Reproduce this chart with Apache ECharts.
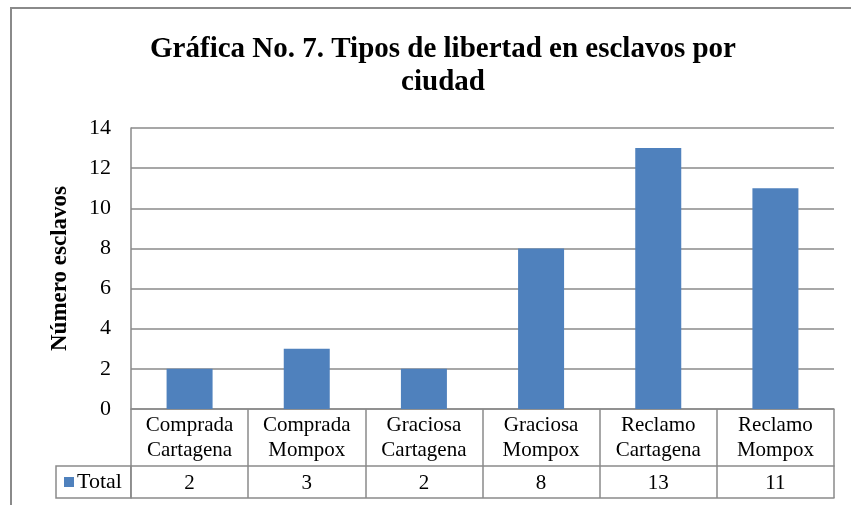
<!DOCTYPE html>
<html>
<head>
<meta charset="utf-8">
<script src="https://cdn.jsdelivr.net/npm/echarts@6/dist/echarts.min.js"></script>
<style>
  html, body { margin: 0; padding: 0; background: #fff; }
  #frame { position: absolute; left: 10px; top: 7px; width: 860px; height: 520px;
           border-left: 2px solid #8a8a8a; border-top: 2px solid #8a8a8a; }
  #chart { position: absolute; left: 0; top: 0; width: 851px; height: 505px; }
</style>
</head>
<body>
<div id="frame"></div>
<div id="chart"></div>
<script>
const categories = ['Comprada\nCartagena', 'Comprada\nMompox', 'Graciosa\nCartagena',
  'Graciosa\nMompox', 'Reclamo\nCartagena', 'Reclamo\nMompox']
const totals = [2, 3, 2, 8, 13, 11]
const yTicks = { min: 0, max: 14, interval: 2 }

const lineGray = '#8a8a8a'
const serif = 'Liberation Serif'

const chart = echarts.init(document.getElementById('chart'))

const option = {
  animation: false,
  title: {
    text: 'Gráfica No. 7. Tipos de libertad en esclavos por\nciudad',
    left: 438,
    top: 28,
    textAlign: 'center',
    textStyle: {
      fontFamily: serif,
      fontWeight: 'bold',
      fontSize: 29,
      lineHeight: 33,
      color: '#000'
    }
  },
  legend: {
    data: ['Total'],
    left: 56,
    top: 466,
    padding: [5, 9, 5, 8],
    itemWidth: 10,
    itemHeight: 10,
    icon: 'rect',
    borderColor: lineGray,
    borderWidth: 1.5,
    borderRadius: 0,
    textStyle: { fontFamily: serif, fontSize: 22, lineHeight: 22, color: '#000', padding: [0, 0, 0, -2] }
  },
  grid: {
    left: 131,
    right: 17,
    top: 128,
    bottom: 96
  },
  xAxis: [
    {
      type: 'category',
      data: categories,
      position: 'bottom',
      axisLine: { lineStyle: { color: lineGray, width: 1.5 } },
      axisTick: { show: true, length: 89, lineStyle: { color: lineGray, width: 1.5 } },
      axisLabel: {
        margin: 4,
        interval: 0,
        fontFamily: serif,
        fontSize: 21,
        lineHeight: 25,
        color: '#000'
      }
    },
    {
      type: 'category',
      data: totals.map(String),
      position: 'bottom',
      offset: 57,
      axisLine: { lineStyle: { color: lineGray, width: 1.5 } },
      axisTick: { show: false },
      axisLabel: {
        margin: 6,
        interval: 0,
        fontFamily: serif,
        fontSize: 21,
        lineHeight: 22,
        color: '#000'
      }
    },
    {
      type: 'category',
      data: categories,
      position: 'bottom',
      offset: 89,
      axisLine: { lineStyle: { color: lineGray, width: 1.5 } },
      axisTick: { show: false },
      axisLabel: { show: false }
    }
  ],
  yAxis: {
    type: 'value',
    min: yTicks.min,
    max: yTicks.max,
    interval: yTicks.interval,
    name: 'Número esclavos',
    nameLocation: 'middle',
    nameGap: 59,
    nameTextStyle: { fontFamily: serif, fontWeight: 'bold', fontSize: 23, color: '#000' },
    axisLine: { show: true, lineStyle: { color: lineGray, width: 1.5 } },
    axisTick: { show: false },
    splitLine: { lineStyle: { color: lineGray, width: 1.5 } },
    axisLabel: { margin: 20, fontFamily: serif, fontSize: 22, color: '#000' }
  },
  series: [
    {
      name: 'Total',
      type: 'bar',
      data: totals,
      xAxisIndex: 0,
      barWidth: 46,
      itemStyle: { color: '#4f81bd' }
    }
  ]
}

chart.setOption(option)
</script>
</body>
</html>
